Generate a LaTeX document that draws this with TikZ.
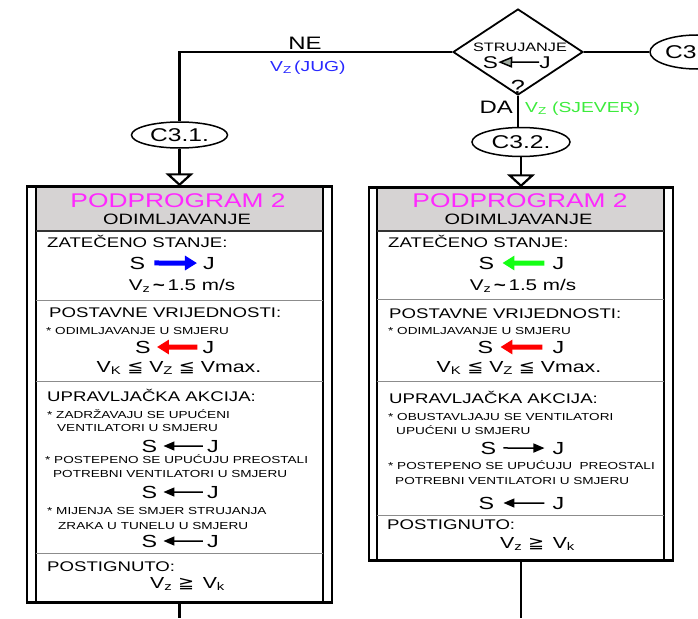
\documentclass[tikz,border=0pt]{standalone}
\usepackage{fontspec}
\setmainfont{Liberation Sans}[FakeStretch=1.33]
\newfontfamily\mysymf{DejaVu Sans}[FakeStretch=1.2]
\usetikzlibrary{shapes.geometric,arrows.meta}
\newcommand\fsz[1]{\fontsize{#1}{#1}\selectfont}
\definecolor{hdrgrey}{RGB}{214,211,211}
\definecolor{sepgrey}{RGB}{140,140,140}
\definecolor{mag}{RGB}{255,40,255}
\definecolor{vblue}{RGB}{40,40,255}
\definecolor{vgreen}{RGB}{60,235,60}
\definecolor{arrblue}{RGB}{0,0,255}
\definecolor{arrgreen}{RGB}{20,255,20}
\definecolor{arrred}{RGB}{255,0,0}
\definecolor{trigrey}{RGB}{160,170,160}
\tikzset{
  conn/.style={line width=2.2pt},
  txt/.style={inner sep=0pt, anchor=base west},
  ctxt/.style={inner sep=0pt, anchor=base},
  sectitle/.style={txt, font=\fsz{14}},
  smalltxt/.style={txt, font=\fsz{10.2}},
  sj/.style={inner sep=0pt, anchor=base, font=\fsz{17.5}},
  fatarrow/.style={line width=5pt, -{Triangle[length=12pt,width=14pt]}},
  thinarrow/.style={line width=1.5pt, -{Triangle[length=11pt,width=9pt]}},
  boxframe/.style={draw, line width=1.5pt, inner sep=0pt, rectangle},
  conell/.style={draw, ellipse, line width=1.5pt, inner sep=0pt, font=\fsz{18.5}},
  openhead/.style={-{Triangle[length=13pt,width=28pt,fill=white]}},
  seps/.style={line width=1pt, sepgrey}
}
\begin{document}
\begin{tikzpicture}[x=1pt,y=-1pt]
\useasboundingbox (0,0) rectangle (698,618);
\clip (0,0) rectangle (698,618);

% header fills
\fill[hdrgrey] (36,187) rectangle (323,231);
\fill[hdrgrey] (377,188) rectangle (664,231);

% frames
\node[boxframe, minimum width=305pt, minimum height=415pt] (boxL) at (179.5,394.5) {};
\node[boxframe, minimum width=304pt, minimum height=372pt] (boxR) at (521,374) {};
\draw[line width=1.5pt] (36,187) -- (36,602) (323,187) -- (323,602);
\draw[line width=1.5pt] (377,188) -- (377,560) (664,188) -- (664,560);
\draw[line width=1.2pt, black!80] (36,231) -- (323,231) (377,231) -- (664,231);
\draw[seps] (36,300) -- (323,300) (36,381) -- (323,381) (36,553) -- (323,553);
\draw[seps] (377,299) -- (664,299) (377,381) -- (664,381) (377,515) -- (664,515);
\draw[line width=2.2pt] (boxL.north west) -- (boxL.north east);
\draw[line width=2.5pt] (boxL.south west) -- (boxL.south east);
\draw[line width=2.2pt] (boxR.north west) -- (boxR.north east);
\draw[line width=2.5pt] (boxR.south west) -- (boxR.south east);

% decision and connectors
\node[draw, diamond, line width=1.8pt, minimum width=130pt, minimum height=86pt, inner sep=0pt] (dec) at (518,52) {};
\node[conell, minimum width=96pt, minimum height=26pt] (c31) at (179.5,135) {C3.1.};
\node[conell, minimum width=98pt, minimum height=29pt] (c32) at (521,142) {C3.2.};
\node[conell, minimum width=94pt, minimum height=34pt] (c33) at (697,52) {};
\node[txt, font=\fsz{18.5}] (c33t) at (665,58.5) {C3};

\draw[conn] (dec.west) -| (c31.north);
\draw[conn, openhead] (c31.south) -- (boxL.north);
\draw[conn] (dec.south) -- (dec.south |- c32.north);
\draw[conn, openhead] (c32.south) -- (boxR.north);
\draw[conn] (dec.east) -- (c33.west);
\coordinate (endL) at (179.5,618);
\coordinate (endR) at (521,618);
\draw[conn] (boxL.south) -- (endL);
\draw[conn] (boxR.south) -- (endR);

% top labels
\node[ctxt, font=\fsz{18}] (ne) at (305,49.5) {NE};
\node[txt, font=\fsz{14.5}, text=vblue] (vjug) at (270,71) {V\textsubscript{Z}\,(JUG)};
\node[ctxt, font=\fsz{12.2}] (stru) at (520,51.5) {STRUJANJE};
\node[ctxt, font=\fsz{17}] (ds) at (490.5,68) {S};
\node[ctxt, font=\fsz{17}] (dj) at (545,68) {J};
\draw[line width=1.5pt, -{Triangle[length=14pt,width=11pt,fill=trigrey]}] (dj.west) -- (ds.east);
\node[ctxt, font=\fsz{19}] (q) at (518,93) {?};
\node[anchor=base east, inner sep=0pt, font=\fsz{18}] (da) at (513,113) {DA};
\node[txt, font=\fsz{14.5}, text=vgreen] (vsj) at (525,112) {V\textsubscript{Z} (SJEVER)};

% left box
\node[ctxt, font=\fsz{19.8}, text=mag] (pl1) at (178,207) {PODPROGRAM 2};
\node[ctxt, font=\fsz{15}] (pl2) at (177,224) {ODIMLJAVANJE};
\node[sectitle] (l1) at (47,247) {ZATEČENO STANJE:};
\node[sj] (ls1) at (137.5,269) {S};
\node[sj] (lj1) at (209,269) {J};
\draw[fatarrow, arrblue, shorten <=9pt, shorten >=6pt] (ls1.east) -- (lj1.west);
\node[ctxt, font=\fsz{15.5}] (lv1) at (182,290) {V\textsubscript{z}\,\textbf{\textasciitilde}\,1.5 m/s};
\node[sectitle] (l2) at (49,317) {POSTAVNE VRIJEDNOSTI:};
\node[smalltxt] (l3) at (46,334) {* ODIMLJAVANJE U SMJERU};
\node[sj] (ls2) at (143,353) {S};
\node[sj] (lj2) at (208.5,353) {J};
\draw[fatarrow, arrred, shorten <=5pt, shorten >=6pt] (lj2.west) -- (ls2.east);
\node[ctxt, font=\fsz{16}] (lv2) at (179,372) {V\textsubscript{K} {\mysymf ≦} V\textsubscript{Z} {\mysymf ≦} Vmax.};
\node[sectitle] (l4) at (47,401) {UPRAVLJAČKA AKCIJA:};
\node[smalltxt] (l5) at (47,418) {* ZADRŽAVAJU SE UPUĆENI};
\node[smalltxt] (l6) at (57,431) {VENTILATORI U SMJERU};
\node[sj] (ls3) at (149.5,452) {S};
\node[sj] (lj3) at (213,452) {J};
\draw[thinarrow, shorten <=4pt, shorten >=6pt] (lj3.west) -- (ls3.east);
\node[smalltxt] (l7) at (45,463) {* POSTEPENO SE UPUĆUJU PREOSTALI};
\node[smalltxt] (l8) at (53,477) {POTREBNI VENTILATORI U SMJERU};
\node[sj] (ls4) at (149.5,498) {S};
\node[sj] (lj4) at (213,498) {J};
\draw[thinarrow, shorten <=4pt, shorten >=6pt] (lj4.west) -- (ls4.east);
\node[smalltxt] (l9) at (47,514) {* MIJENJA SE SMJER STRUJANJA};
\node[smalltxt] (l10) at (58,529) {ZRAKA U TUNELU U SMJERU};
\node[sj] (ls5) at (149.5,547) {S};
\node[sj] (lj5) at (213,547) {J};
\draw[thinarrow, shorten <=4pt, shorten >=6pt] (lj5.west) -- (ls5.east);
\node[sectitle] (l11) at (47,571) {POSTIGNUTO:};
\node[ctxt, font=\fsz{16}] (lv3) at (187.5,588) {V\textsubscript{z} {\mysymf ≧}\, V\textsubscript{k}};

% right box
\node[ctxt, font=\fsz{19.8}, text=mag] (pr1) at (520,207) {PODPROGRAM 2};
\node[ctxt, font=\fsz{15}] (pr2) at (518.5,224) {ODIMLJAVANJE};
\node[sectitle] (r1) at (388,247) {ZATEČENO STANJE:};
\node[sj] (rs1) at (486.5,269) {S};
\node[sj] (rj1) at (558.5,269) {J};
\draw[fatarrow, arrgreen, shorten <=8pt, shorten >=8pt] (rj1.west) -- (rs1.east);
\node[ctxt, font=\fsz{15.5}] (rv1) at (523,290) {V\textsubscript{z}\,\textbf{\textasciitilde}\,1.5 m/s};
\node[sectitle] (r2) at (389,318) {POSTAVNE VRIJEDNOSTI:};
\node[smalltxt] (r3) at (388,334) {* ODIMLJAVANJE U SMJERU};
\node[sj] (rs2) at (485.5,353) {S};
\node[sj] (rj2) at (558.5,353) {J};
\draw[fatarrow, arrred, shorten <=10pt, shorten >=7pt] (rj2.west) -- (rs2.east);
\node[ctxt, font=\fsz{16}] (rv2) at (519,372) {V\textsubscript{K} {\mysymf ≦} V\textsubscript{Z} {\mysymf ≦} Vmax.};
\node[sectitle] (r4) at (389,403) {UPRAVLJAČKA AKCIJA:};
\node[smalltxt] (r5) at (388,420) {* OBUSTAVLJAJU SE VENTILATORI};
\node[smalltxt] (r6) at (396,434) {UPUĆENI U SMJERU};
\node[sj] (rs3) at (488.5,454) {S};
\node[sj] (rj3) at (558.5,454) {J};
\draw[thinarrow, shorten <=7pt, shorten >=8pt] (rs3.east) -- (rj3.west);
\node[smalltxt] (r7) at (388,469) {* POSTEPENO SE UPUĆUJU\ \ PREOSTALI};
\node[smalltxt] (r8) at (395,484) {POTREBNI VENTILATORI U SMJERU};
\node[sj] (rs4) at (486.5,509) {S};
\node[sj] (rj4) at (558.5,509) {J};
\draw[thinarrow, shorten <=8pt, shorten >=9pt] (rj4.west) -- (rs4.east);
\node[sectitle] (r9) at (387,529) {POSTIGNUTO:};
\node[ctxt, font=\fsz{16}] (rv3) at (537.5,548) {V\textsubscript{z} {\mysymf ≧}\, V\textsubscript{k}};
\end{tikzpicture}
\end{document}
